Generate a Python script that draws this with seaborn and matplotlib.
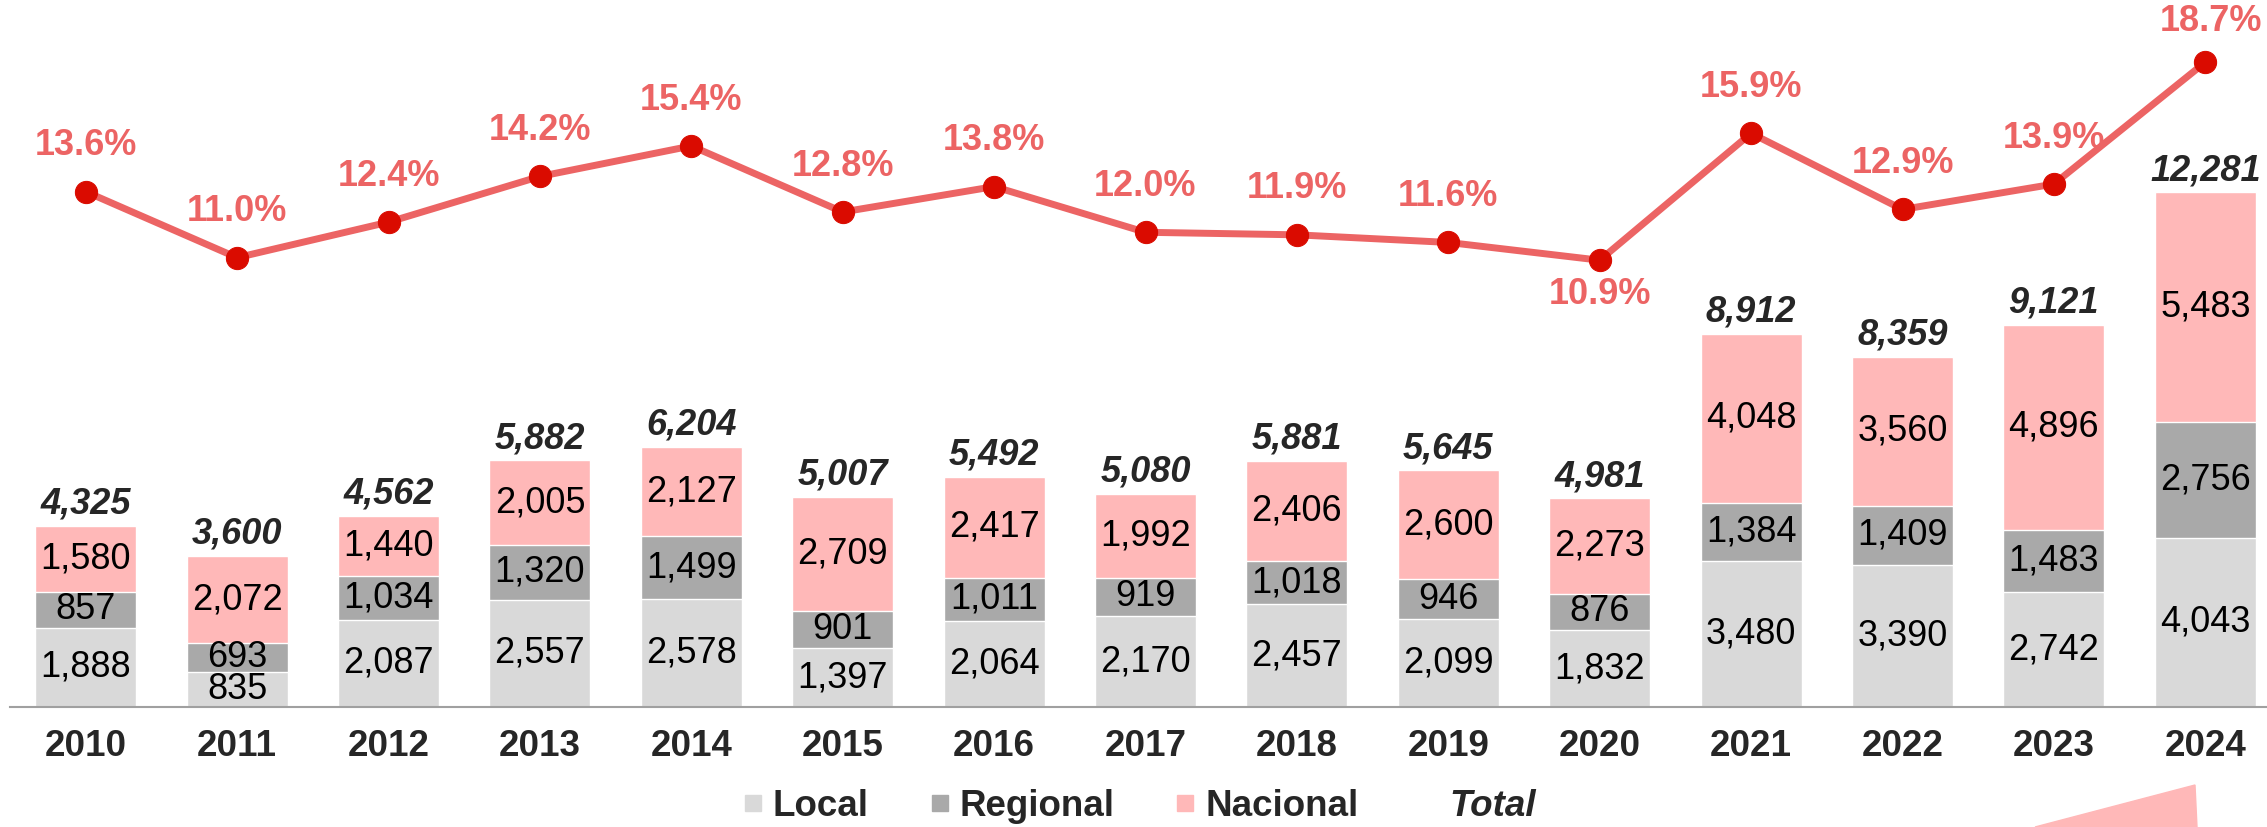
import numpy as np
import pandas as pd
import seaborn as sns
import matplotlib.pyplot as plt
from matplotlib.lines import Line2D
from matplotlib.patches import Polygon

# data
years = [str(y) for y in range(2010, 2025)]
local = [1888, 835, 2087, 2557, 2578, 1397, 2064, 2170, 2457, 2099, 1832, 3480, 3390, 2742, 4043]
regional = [857, 693, 1034, 1320, 1499, 901, 1011, 919, 1018, 946, 876, 1384, 1409, 1483, 2756]
nacional = [1580, 2072, 1440, 2005, 2127, 2709, 2417, 1992, 2406, 2600, 2273, 4048, 3560, 4896, 5483]
totals = [4325, 3600, 4562, 5882, 6204, 5007, 5492, 5080, 5881, 5645, 4981, 8912, 8359, 9121, 12281]
pct = [13.6, 11.0, 12.4, 14.2, 15.4, 12.8, 13.8, 12.0, 11.9, 11.6, 10.9, 15.9, 12.9, 13.9, 18.7]

c_local = "#D9D9D9"
c_regional = "#A9A9A9"
c_nacional = "#FFB8B8"
c_line = "#EC6464"
c_marker = "#DA0B00"

sns.set_style("white")
plt.rcParams['font.family'] = ['Liberation Sans', 'DejaVu Sans']

df = pd.DataFrame({"year": years, "local": local, "regional": regional, "nacional": nacional})
df["cum_reg"] = df["local"] + df["regional"]
df["cum_nac"] = df["cum_reg"] + df["nacional"]

fig = plt.figure(figsize=(22.67, 8.27), dpi=100)
W, H = 2267, 827
ax = fig.add_axes([10 / W, 1 - 707 / H, 2271 / W, 707 / H])

# stacked bars: draw cumulative heights from the top down
bw = 0.667
sns.barplot(data=df, x="year", y="cum_nac", color=c_nacional, width=bw, saturation=1, ax=ax)
sns.barplot(data=df, x="year", y="cum_reg", color=c_regional, width=bw, saturation=1, ax=ax)
sns.barplot(data=df, x="year", y="local", color=c_local, width=bw, saturation=1, ax=ax)

ax.set_xlim(-0.5, len(years) - 0.5)
ax.set_ylim(0, 16870)
ax.set_xlabel("")
ax.set_ylabel("")
ax.set_yticks([])
for s in ["top", "right", "left"]:
    ax.spines[s].set_visible(False)
ax.spines["bottom"].set_color("#A0A0A0")
ax.spines["bottom"].set_linewidth(1.5)
ax.set_xticks(np.arange(-0.5, len(years)), minor=True)
ax.tick_params(axis="x", which="minor", length=8, width=1.2, color="#A0A0A0", direction="out")
ax.tick_params(axis="x", which="major", length=0, pad=16)
for lbl in ax.get_xticklabels():
    lbl.set_fontsize(26.5)
    lbl.set_fontweight("bold")

# segment labels
for i in range(len(years)):
    segs = [(0, local[i]), (local[i], regional[i]), (local[i] + regional[i], nacional[i])]
    for base, h in segs:
        ax.text(i, base + h / 2, f"{h:,}", ha="center", va="center", fontsize=26, color="black")
    top = local[i] + regional[i] + nacional[i]
    ax.annotate(f"{totals[i]:,}", (i, top), xytext=(0, 3), textcoords="offset points",
                ha="center", va="bottom", fontsize=26, fontweight="bold", fontstyle="italic")

# percentage line on a secondary axis
ax2 = ax.twinx()
sns.lineplot(x=np.arange(len(years)), y=pct, ax=ax2, color=c_line, linewidth=5,
             marker="o", markersize=16, markerfacecolor=c_marker, markeredgecolor=c_marker)
ax2.set_ylim(-6.7, 21.15)
ax2.set_yticks([])
ax2.set_ylabel("")
for s in ax2.spines.values():
    s.set_visible(False)
for i, p in enumerate(pct):
    dy, dx = 33, 0
    if years[i] == "2020":
        dy = -25
    elif years[i] == "2024":
        dy, dx = 29, 4
    ax2.annotate(f"{p:.1f}%", (i, p), xytext=(dx, dy), textcoords="offset points",
                 ha="center", va="center", fontsize=26, fontweight="bold", color=c_line)

# legend
handles = [
    Line2D([], [], linestyle="none", marker="s", markersize=12.2, color=c_local),
    Line2D([], [], linestyle="none", marker="s", markersize=12.2, color=c_regional),
    Line2D([], [], linestyle="none", marker="s", markersize=12.2, color=c_nacional),
    Line2D([], [], linestyle="none", marker="s", markersize=12.2, color="none"),
]
leg = fig.legend(handles, ["Local", "Regional", "Nacional", "Total"], ncol=4, loc="center",
                 bbox_to_anchor=(1140 / W, 1 - 806 / H), frameon=False, fontsize=26.5,
                 handlelength=0.47, handletextpad=0.3, columnspacing=1.7, borderpad=0.1)
for t in leg.get_texts():
    t.set_fontweight("bold")
leg.get_texts()[3].set_fontstyle("italic")

# decorative corner shape from the slide
tri = Polygon([[2035 / W, 0], [2195 / W, 1 - 785 / H], [2197 / W, 0]],
              closed=True, transform=fig.transFigure, color=c_nacional, zorder=0)
fig.add_artist(tri)

fig.savefig("out.png", dpi=100)
